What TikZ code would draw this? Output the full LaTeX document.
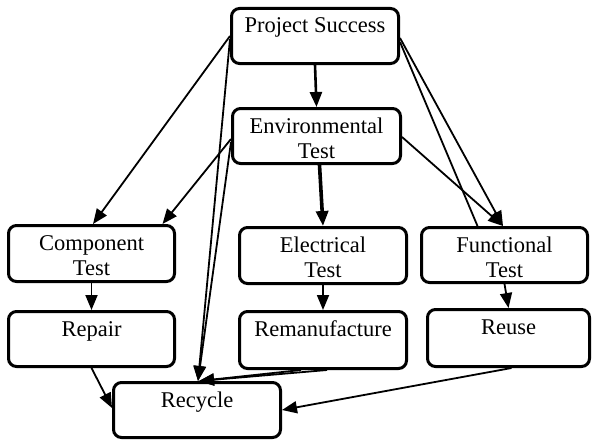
\documentclass[tikz,border=0pt]{standalone}
\usepackage{fontspec}
\setmainfont{Liberation Serif}
\usetikzlibrary{arrows.meta,calc}
\begin{document}
\begin{tikzpicture}[x=1pt,y=-1pt,
  box/.style={draw,line width=3pt,rounded corners=8pt,inner sep=0pt},
  lbl/.style={anchor=base,inner sep=0pt,align=center,font=\fontsize{22.5}{25}\selectfont},
  arr/.style={line width=1.8pt,-{Triangle[length=15pt,width=12pt]}},
  ln/.style={line width=1.8pt}]
\useasboundingbox (0,0) rectangle (593,444);
% boxes
\node[box,minimum width=167pt,minimum height=55pt] (ps) at (315,36) {};
\node[box,minimum width=168pt,minimum height=55pt] (et) at (316.5,136) {};
\node[box,minimum width=166pt,minimum height=56pt] (ct) at (91.5,253.5) {};
\node[box,minimum width=167pt,minimum height=56pt] (el) at (323,255.5) {};
\node[box,minimum width=166pt,minimum height=55pt] (ft) at (504.5,255) {};
\node[box,minimum width=166pt,minimum height=55pt] (rp) at (91.5,339) {};
\node[box,minimum width=167pt,minimum height=57pt] (rm) at (323,340) {};
\node[box,minimum width=162pt,minimum height=57pt] (ru) at (508.5,338) {};
\node[box,minimum width=167pt,minimum height=55pt] (rc) at (197,410) {};
% labels
\node[lbl] (pst) at ([yshift=-26pt]ps.north) {Project Success};
\node[lbl] (ett) at ([yshift=-51pt]et.north) {Environmental\\Test};
\node[lbl] (ctt) at ([yshift=-51pt]ct.north) {Component\\Test};
\node[lbl] (elt) at ([yshift=-51pt]el.north) {Electrical\\Test};
\node[lbl] (ftt) at ([yshift=-51pt]ft.north) {Functional\\Test};
\node[lbl] (rpt) at ([yshift=-26pt]rp.north) {Repair};
\node[lbl] (rmt) at ([yshift=-26pt]rm.north) {Remanufacture};
\node[lbl] (rut) at ([yshift=-26pt]ru.north) {Reuse};
\node[lbl] (rct) at ([yshift=-26pt]rc.north) {Recycle};
% connectors
\draw[arr,line width=2.6pt] (ps.south) -- (et.north);
\draw[arr] (ps.west) -- ([xshift=1.5pt]ct.north);
\draw[arr] ([yshift=-3pt]ps.west) -- ([xshift=1pt]rc.north);
\draw[arr] ([yshift=-3pt]et.west) -- ([xshift=71pt]ct.north);
\draw[arr] ([yshift=-6pt]et.west) -- ([xshift=1pt]rc.north);
\draw[arr,line width=3.6pt] ([xshift=3pt]et.south) -- (el.north);
\draw[arr] ([yshift=-2pt]ps.east) -- ([xshift=-1.5pt]ft.north);
\draw[ln] ([yshift=-6pt]ps.east) -- ([xshift=-27pt]ft.north);
\draw[arr] ([yshift=-1pt]et.east) -- ([xshift=-1.5pt]ft.north);
\draw[arr] (ct.south) -- (rp.north);
\draw[arr] (el.south) -- (rm.north);
\draw[arr] (ft.south) -- (ru.north);
\draw[arr] (rp.south) -- ([yshift=2pt]rc.west);
\draw[arr] ([xshift=4pt]rm.south) -- ([xshift=2pt]rc.north);
\draw[arr] ([xshift=-22pt]rm.south) -- ([xshift=2pt]rc.north);
\draw[arr] ([xshift=3pt]ru.south) -- (rc.east);
\end{tikzpicture}
\end{document}
